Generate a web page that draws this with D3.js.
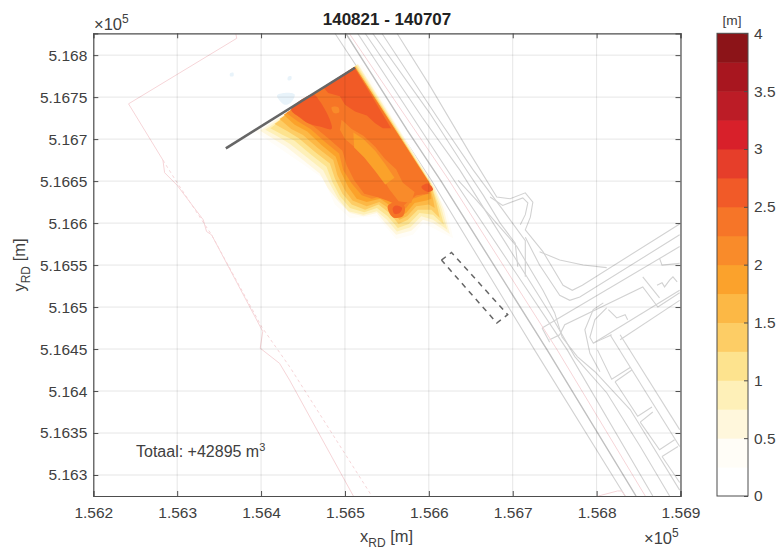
<!DOCTYPE html>
<html>
<head>
<meta charset="utf-8">
<script src="https://cdn.jsdelivr.net/npm/d3@7"></script>
<style>
body { margin: 0; background: #fff; }
text { font-family: "Liberation Sans", Arial, sans-serif; fill: #404040; }
</style>
</head>
<body>
<svg id="chart" width="777" height="554"></svg>
<script>
const xTicks = [156200, 156300, 156400, 156500, 156600, 156700, 156800, 156900];
const xTickLabels = ['1.562', '1.563', '1.564', '1.565', '1.566', '1.567', '1.568', '1.569'];
const yTicks = [516300, 516350, 516400, 516450, 516500, 516550, 516600, 516650, 516700, 516750, 516800];
const yTickLabels = ['5.163', '5.1635', '5.164', '5.1645', '5.165', '5.1655', '5.166', '5.1665', '5.167', '5.1675', '5.168'];
const barTicks = [0, 0.5, 1, 1.5, 2, 2.5, 3, 3.5, 4];
const barColors = ['#ffffff', '#fffdf7', '#fff7dc', '#fef0b8', '#fde38e', '#fdcd65', '#fcb845', '#fba22c',
  '#f98b2a', '#f67528', '#f15a28', '#e63e2a', '#d8202a', '#bc1c26', '#a8161f', '#8c1418'];
const barSteps = d3.range(0, 4, 0.25);

// sedimentation contours, RD metres
const c025 = [[156393,516709],[156450,516670],[156474,516653],[156488,516622],[156506,516606],[156538,516608],[156561,516581],[156581,516586],[156593,516600],[156629,516582],[156621,516616],[156520,516789]];
const c050 = [[156399,516710],[156415,516700],[156430,516691],[156450,516675],[156470,516659],[156480,516641],[156492,516626],[156506,516612],[156522,516608],[156538,516612],[156548,516600],[156561,516586],[156579,516591],[156593,516604],[156605,516600],[156625,516587],[156618,516616],[156607,516643],[156516,516789]];
const c075 = [[156405,516711],[156420,516703],[156435,516694],[156455,516678],[156474,516663],[156483,516645],[156492,516629],[156504,516614],[156522,516610],[156538,516614],[156550,516604],[156562,516590],[156578,516595],[156591,516608],[156605,516604],[156622,516592],[156615,516618],[156605,516644],[156515,516789]];
const c100 = [[156411,516713],[156426,516705],[156440,516698],[156459,516682],[156478,516667],[156485,516649],[156494,516632],[156506,516618],[156523,516613],[156538,516618],[156551,516608],[156563,516594],[156576,516599],[156589,516612],[156605,516610],[156618,516598],[156612,516620],[156603,516645],[156514,516788]];
const c125 = [[156416,516718],[156432,516709],[156445,516701],[156464,516685],[156482,516671],[156488,516653],[156497,516635],[156508,516622],[156524,516616],[156540,516622],[156553,516612],[156564,516599],[156575,516604],[156587,516616],[156603,516616],[156613,516606],[156609,516624],[156602,516647],[156513,516787]];
const c150 = [[156422,516724],[156436,516712],[156450,516705],[156468,516689],[156486,516675],[156491,516657],[156500,516639],[156509,516627],[156526,516620],[156541,516625],[156555,516616],[156565,516604],[156574,516608],[156585,516620],[156600,516622],[156607,516618],[156605,516629],[156601,516645],[156512,516786]];
const c175 = [[156427,516729],[156440,516717],[156455,516709],[156472,516693],[156489,516679],[156495,516661],[156504,516643],[156514,516629],[156526,516625],[156542,516629],[156555,516620],[156565,516608],[156573,516612],[156583,516624],[156597,516627],[156603,516629],[156601,516647],[156512,516786]];
const c200 = [[156430,516731],[156444,516721],[156459,516712],[156476,516697],[156493,516683],[156498,516663],[156508,516647],[156520,516633],[156532,516629],[156548,516633],[156557,516624],[156565,516614],[156573,516618],[156581,516629],[156593,516633],[156601,516635],[156600,516649],[156512,516786]];
const c225 = [[156435,516735],[156448,516724],[156463,516715],[156480,516701],[156497,516686],[156502,516669],[156511,516651],[156523,516635],[156538,516631],[156550,516627],[156561,516622],[156569,516620],[156577,516627],[156585,516633],[156599,516635],[156601,516647],[156511,516786]];
const c225Spot = [[156551,516620],[156561,516625],[156571,516620],[156569,516608],[156557,516607]];
const stripe200 = [[156496,516723],[156508,516712],[156522,516704],[156536,516691],[156548,516676],[156561,516664],[156569,516648],[156583,516637],[156579,516624],[156564,516626],[156553,516640],[156541,516660],[156526,516678],[156512,516690],[156500,516700],[156494,516711]];
const blob200 = [[156484,516738],[156492,516738],[156493,516732],[156487,516731]];
const stripe175 = [[156510,516708],[156522,516700],[156536,516686],[156548,516670],[156559,516654],[156548,516646],[156536,516662],[156523,516678],[156511,516690]];
const c250Left = [[156436,516735],[156462,516753],[156470,516745],[156482,516723],[156484,516712],[156470,516715],[156456,516719],[156446,516726]];
const c250Top = [[156474,516762],[156511,516786],[156555,516713],[156545,516713],[156536,516719],[156526,516728],[156512,516733],[156500,516741],[156494,516751],[156480,516755]];
const c250Right = [[156591,516643],[156599,516647],[156605,516640],[156599,516637]];
const c250Spot = [[156557,516618],[156561,516621],[156568,516618],[156565,516612],[156559,516611]];
const contourLevels = [
  [0.25, c025], [0.5, c050], [0.75, c075], [1, c100], [1.25, c125], [1.5, c150], [1.75, c175], [2, c200],
  [2.25, c225], [2.25, c225Spot], [2, stripe200], [2, blob200], [1.75, stripe175],
  [2.5, c250Left], [2.5, c250Top], [2.5, c250Right], [2.5, c250Spot]
];

const erosionSpots = [
  [[156419,516752],[156428,516755],[156440,516753],[156436,516744],[156428,516741]],
  [[156363,516778],[156367,516779],[156367,516775],[156363,516775]],
  [[156432,516774],[156436,516775],[156436,516771],[156432,516770]]
];

const screenLine = [[156358,516689],[156512,516785]];
const dredgeBox = [[156615,516556],[156627,516565],[156694,516491],[156681,516481],[156615,516556]];

// map background
const boundary = [[156370,516825],[156371,516820],[156242,516742],[156283,516675],[156285,516660],[156300,516645],[156331,516604],[156335,516590],[156341,516586],[156402,516471],[156399,516451],[156422,516433],[156434,516413],[156510,516275]];
const boundaryOld = [[156283,516675],[156300,516648],[156341,516586],[156401,516476],[156434,516429],[156532,516275]];
const boundarySouth = [[156802,516275],[156825,516281],[156830,516281],[156834,516275]];
const railPink = [[156505,516826],[156624,516651],[156753,516449],[156858,516275]];
const roadMain = [[156501,516826],[156574,516711],[156614,516651],[156741,516449],[156847,516275]];
const roads = [
  [[156488,516826],[156603,516651],[156726,516449],[156834,516275]],
  [[156515,516826],[156630,516651],[156765,516449],[156867,516275]],
  [[156524,516826],[156592,516726],[156637,516663],[156744,516493],[156774,516441],[156812,516398],[156852,516334],[156887,516275]],
  [[156533,516826],[156601,516731],[156645,516663],[156665,516633],[156685,516600],[156703,516576],[156706,516548]],
  [[156544,516826],[156610,516726],[156653,516663],[156688,516616],[156715,516579],[156715,516536]],
  [[156562,516826],[156601,516764],[156649,516683],[156681,516631],[156697,516629],[156715,516636],[156724,516625],[156721,516607],[156715,516592],[156736,516566],[156760,516526],[156771,516520],[156783,516526],[156899,516599]],
  [[156635,516651],[156657,516627],[156705,516572],[156736,516520],[156750,516493],[156759,516464],[156777,516441],[156798,516423],[156840,516378],[156899,516282]],
  [[156673,516631],[156688,516621],[156712,516630],[156718,516624],[156715,516610],[156709,516598]],
  [[156715,516583],[156732,516550],[156756,516514],[156768,516508],[156780,516512],[156899,516586]],
  [[156732,516566],[156756,516556],[156784,516550],[156812,516547]],
  [[156735,516475],[156899,516572]],
  [[156735,516475],[156744,516458]],
  [[156744,516461],[156756,516467],[156762,516479],[156855,516524],[156873,516500],[156899,516517]],
  [[156855,516536],[156875,516511]],
  [[156875,516558],[156878,516550],[156899,516552]],
  [[156872,516526],[156878,516529],[156881,516524],[156887,516532],[156891,516536],[156896,516530]],
  [[156814,516497],[156824,516487],[156834,516491],[156837,516485]],
  [[156796,516457],[156899,516520]],
  [[156828,516461],[156899,516508]],
  [[156828,516467],[156899,516354]],
  [[156816,516467],[156899,516334]],
  [[156801,516449],[156818,516414],[156840,516428]],
  [[156822,516411],[156849,516370],[156866,516381]],
  [[156822,516411],[156842,516425]],
  [[156852,516363],[156875,516330],[156893,516342]],
  [[156852,516363],[156867,516375]],
  [[156878,516322],[156899,516291]],
  [[156878,516322],[156897,516334]],
  [[156808,516505],[156796,516497],[156786,516473],[156792,516445],[156804,516423]],
  [[156818,516467],[156796,516457],[156792,516464],[156798,516485],[156812,516499]]
];

const margin = {t: 33.3, r: 96.5, b: 58, l: 93.3};
const size = {w: 777, h: 554};
const bar = {x0: 717, x1: 748};
const axisColor = '#4d4d4d';
const fontSize = {tick: 15.5, label: 16.5, title: 17, note: 16, unit: 13.7};

const svg = d3.select('#chart');
const x = d3.scaleLinear().domain([156200, 156900]).range([margin.l, size.w - margin.r]);
const y = d3.scaleLinear().domain([516275, 516826]).range([size.h - margin.b, margin.t]);
const level = d3.scaleThreshold().domain(barSteps.slice(1).concat(4)).range(barColors);
const line = d3.line().x(d => x(d[0])).y(d => y(d[1]));
const blob = d3.line().x(d => x(d[0])).y(d => y(d[1])).curve(d3.curveCatmullRomClosed.alpha(0.5));
const right = size.w - margin.r, bottom = size.h - margin.b;

svg.append('rect').attr('width', size.w).attr('height', size.h).attr('fill', '#fff');
svg.append('defs').append('clipPath').attr('id', 'plot').append('rect')
  .attr('x', margin.l).attr('y', margin.t).attr('width', right - margin.l).attr('height', bottom - margin.t);
const soft = svg.select('defs').append('filter').attr('id', 'soft');
soft.append('feGaussianBlur').attr('stdDeviation', 0.45);

const plot = svg.append('g').attr('clip-path', 'url(#plot)');

plot.append('g').attr('fill', 'none').attr('stroke', '#d2d2d2').attr('stroke-width', 1.1)
  .selectAll('path').data(roads).join('path').attr('d', line);
plot.append('path').attr('d', line(roadMain)).attr('fill', 'none').attr('stroke', '#c0c0c0').attr('stroke-width', 1.4);
plot.selectAll('path.pink').data([boundary, boundarySouth, railPink]).join('path').classed('pink', true)
  .attr('d', line).attr('fill', 'none').attr('stroke', '#f6d5d8').attr('stroke-width', 1);
plot.append('path').attr('d', line(boundaryOld)).attr('fill', 'none').attr('stroke', '#f6d5d8')
  .attr('stroke-dasharray', '3,3');

// plume, lowest level first
const plume = plot.append('g').attr('filter', 'url(#soft)');
plume.selectAll('path.spot').data(erosionSpots).join('path').classed('spot', true)
  .attr('d', blob).attr('fill', '#e8f3fa');
plume.selectAll('path.level').data(contourLevels).join('path').classed('level', true)
  .attr('d', d => d[1].length > 8 ? line(d[1]) + 'Z' : blob(d[1])).attr('fill', d => level(d[0]));

// grid on top of the plume
const grid = plot.append('g').attr('stroke', '#000').attr('stroke-opacity', 0.1);
grid.selectAll('line.gx').data(xTicks).join('line').classed('gx', true)
  .attr('x1', d => x(d)).attr('x2', d => x(d)).attr('y1', margin.t).attr('y2', bottom);
grid.selectAll('line.gy').data(yTicks).join('line').classed('gy', true)
  .attr('y1', d => y(d)).attr('y2', d => y(d)).attr('x1', margin.l).attr('x2', right);

plot.append('path').attr('d', line(screenLine)).attr('fill', 'none').attr('stroke', '#666').attr('stroke-width', 2.6);
plot.append('path').attr('d', line(dredgeBox)).attr('fill', 'none').attr('stroke', '#666')
  .attr('stroke-width', 1.5).attr('stroke-dasharray', '5.5,5');

function styleAxis(g) {
  g.selectAll('.domain').attr('stroke', axisColor).attr('stroke-width', 1.2);
  g.selectAll('.tick line').attr('stroke', axisColor);
  g.selectAll('.tick text').attr('font-size', fontSize.tick).attr('fill', '#404040')
    .attr('font-family', '"Liberation Sans", Arial, sans-serif');
}

svg.append('g').attr('transform', `translate(0,${bottom})`)
  .call(d3.axisBottom(x).tickValues(xTicks).tickSize(-5).tickPadding(11).tickFormat((d, i) => xTickLabels[i]))
  .call(styleAxis);
svg.append('g').attr('transform', `translate(${margin.l},0)`)
  .call(d3.axisLeft(y).tickValues(yTicks).tickSize(-5).tickPadding(6).tickFormat((d, i) => yTickLabels[i]))
  .call(styleAxis);
svg.append('g').attr('transform', `translate(0,${margin.t})`)
  .call(d3.axisTop(x).tickValues(xTicks).tickSize(-5).tickFormat(''))
  .call(styleAxis);
svg.append('g').attr('transform', `translate(${right},0)`)
  .call(d3.axisRight(y).tickValues(yTicks).tickSize(-5).tickFormat(''))
  .call(styleAxis);

// colour bar
const barY = d3.scaleLinear().domain([0, 4]).range([bottom, margin.t]);
svg.append('g').selectAll('rect').data(barSteps).join('rect')
  .attr('x', bar.x0).attr('width', bar.x1 - bar.x0)
  .attr('y', d => barY(d + 0.25)).attr('height', d => barY(d) - barY(d + 0.25) + 0.5)
  .attr('fill', (d, i) => barColors[i]);
svg.append('rect').attr('x', bar.x0).attr('y', margin.t).attr('width', bar.x1 - bar.x0).attr('height', bottom - margin.t)
  .attr('fill', 'none').attr('stroke', axisColor);
const barAxis = svg.append('g').attr('transform', `translate(${bar.x1},0)`)
  .call(d3.axisRight(barY).tickValues(barTicks).tickSize(-4).tickPadding(6).tickFormat(d3.format('')))
  .call(styleAxis);
barAxis.select('.domain').attr('stroke', 'none');
svg.append('text').attr('x', 732).attr('y', 25).attr('text-anchor', 'middle').attr('font-size', fontSize.unit).text('[m]');

// titles and labels
svg.append('text').attr('x', 387).attr('y', 25).attr('text-anchor', 'middle')
  .attr('font-size', fontSize.title).attr('font-weight', 'bold').attr('style', 'fill:#222').text('140821 - 140707');

const xLabel = svg.append('text').attr('x', 360).attr('y', 542).attr('font-size', fontSize.label);
xLabel.append('tspan').text('x');
xLabel.append('tspan').attr('dy', 5).attr('font-size', 12).text('RD');
xLabel.append('tspan').attr('dy', -5).text(' [m]');

const yLabel = svg.append('text').attr('transform', 'translate(25,265) rotate(-90)').attr('text-anchor', 'middle').attr('font-size', fontSize.label);
yLabel.append('tspan').text('y');
yLabel.append('tspan').attr('dy', 5).attr('font-size', 12).text('RD');
yLabel.append('tspan').attr('dy', -5).text(' [m]');

const total = svg.append('text').attr('x', 136).attr('y', 457).attr('font-size', fontSize.note);
total.append('tspan').text('Totaal: +42895 m');
total.append('tspan').attr('dy', -6).attr('font-size', 11).text('3');

function exponent(px, py) {
  const t = svg.append('text').attr('x', px).attr('y', py).attr('font-size', 16.5);
  t.append('tspan').text('\u00d710');
  t.append('tspan').attr('dy', -7).attr('font-size', 12).text('5');
}
exponent(94, 30);
exponent(644, 544);
</script>
</body>
</html>
